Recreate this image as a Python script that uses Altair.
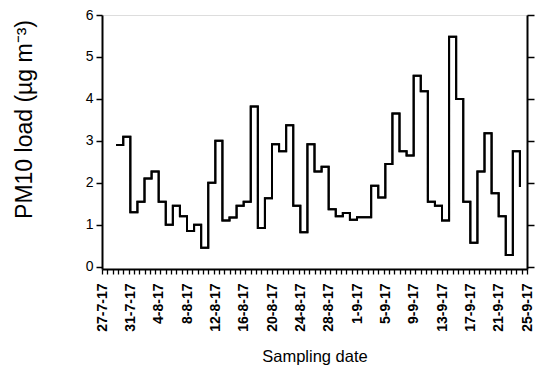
import altair as alt
import pandas as pd

# ---- data ----
start_date = "2017-07-27"
sample_dates = pd.date_range("2017-07-29", "2017-09-24", freq="D")
pm10 = [2.9, 3.1, 1.3, 1.55, 2.1, 2.27, 1.55, 1.0, 1.45, 1.2, 0.85, 1.0, 0.45, 2.0, 3.0, 1.1, 1.17, 1.45, 1.55,
        3.82, 0.92, 1.63, 2.92, 2.75, 3.37, 1.45, 0.82, 2.92, 2.27, 2.38, 1.37, 1.2, 1.28, 1.12, 1.18, 1.18, 1.93, 1.65,
        2.45, 3.65, 2.75, 2.65, 4.55, 4.18, 1.55, 1.45, 1.1, 5.48, 4.0, 1.55, 0.57, 2.27, 3.18, 1.75, 1.2, 0.28, 2.75,
        1.9]
label_dates = pd.date_range("2017-07-27", "2017-09-25", freq="4D")
tick_labels = [f"{d.day}-{d.month}-{d.strftime('%y')}" for d in label_dates]
y_ticks = [0, 1, 2, 3, 4, 5, 6]

start = pd.Timestamp(start_date)
df = pd.DataFrame({
    "day": [(d - start).days for d in sample_dates],
    "pm10": pm10,
})

label_positions = [(d - start).days for d in label_dates]
minor_ticks = [i * 0.75 for i in range(81)]
label_expr = "[" + ",".join(f"'{t}'" for t in tick_labels) + "][round(datum.value / 4)]"

FONT = "Liberation Sans"
xscale = alt.Scale(domain=[0, 60], nice=False, zero=False)
yscale = alt.Scale(domain=[-0.055, 6], nice=False, zero=False)

base = alt.Chart(df)

minor = base.mark_line(interpolate="step-after", color="black", strokeWidth=2,
                       strokeJoin="miter", strokeCap="butt").encode(
    x=alt.X("day:Q", scale=xscale,
            axis=alt.Axis(orient="bottom", values=minor_ticks, labels=False, tickSize=5,
                          tickWidth=1.3, domainWidth=2, domainColor="black", tickColor="black",
                          grid=False, title=None)),
    y=alt.Y("pm10:Q", scale=yscale,
            axis=alt.Axis(orient="left", values=y_ticks, tickSize=6, tickWidth=1.5,
                          domainWidth=2, domainColor="black", tickColor="black",
                          labelFontSize=14, labelPadding=3, grid=False,
                          title="PM10 load (µg m⁻³)", titleFontSize=23,
                          titleFontWeight="normal", titleX=-78, titleY=104,
                          titleAlign="center", titleBaseline="middle", titleAngle=-90)),
)

labels = base.mark_line(interpolate="step-after", color="black", strokeWidth=2,
                        strokeJoin="miter", strokeCap="butt").encode(
    x=alt.X("day:Q", scale=xscale,
            axis=alt.Axis(orient="bottom", values=label_positions, labelExpr=label_expr,
                          ticks=False, domain=False, grid=False, labelAngle=-90,
                          labelFontSize=14, labelFontWeight="bold", labelPadding=14,
                          labelLimit=200, labelOverlap=False,
                          title="Sampling date", titleFontSize=16.5,
                          titleFontWeight="normal", titlePadding=17)),
    y=alt.Y("pm10:Q", scale=yscale,
            axis=alt.Axis(orient="right", values=y_ticks, labels=False, tickSize=7,
                          tickWidth=1.5, domainWidth=2, domainColor="black", tickColor="black",
                          grid=False, title=None)),
)

chart = alt.layer(minor, labels).resolve_axis(x="independent", y="independent").properties(
    width=425, height=254,
    autosize=alt.AutoSizeParams(type="none"),
    padding={"left": 94, "top": 7, "right": 15, "bottom": 100},
).configure_view(stroke=None).configure_axis(
    domainColor="black", tickColor="black", labelColor="black", titleColor="black",
    labelFont=FONT, titleFont=FONT,
).configure(font=FONT)

chart.save("out.html", embed_options={"renderer": "svg", "actions": False})
